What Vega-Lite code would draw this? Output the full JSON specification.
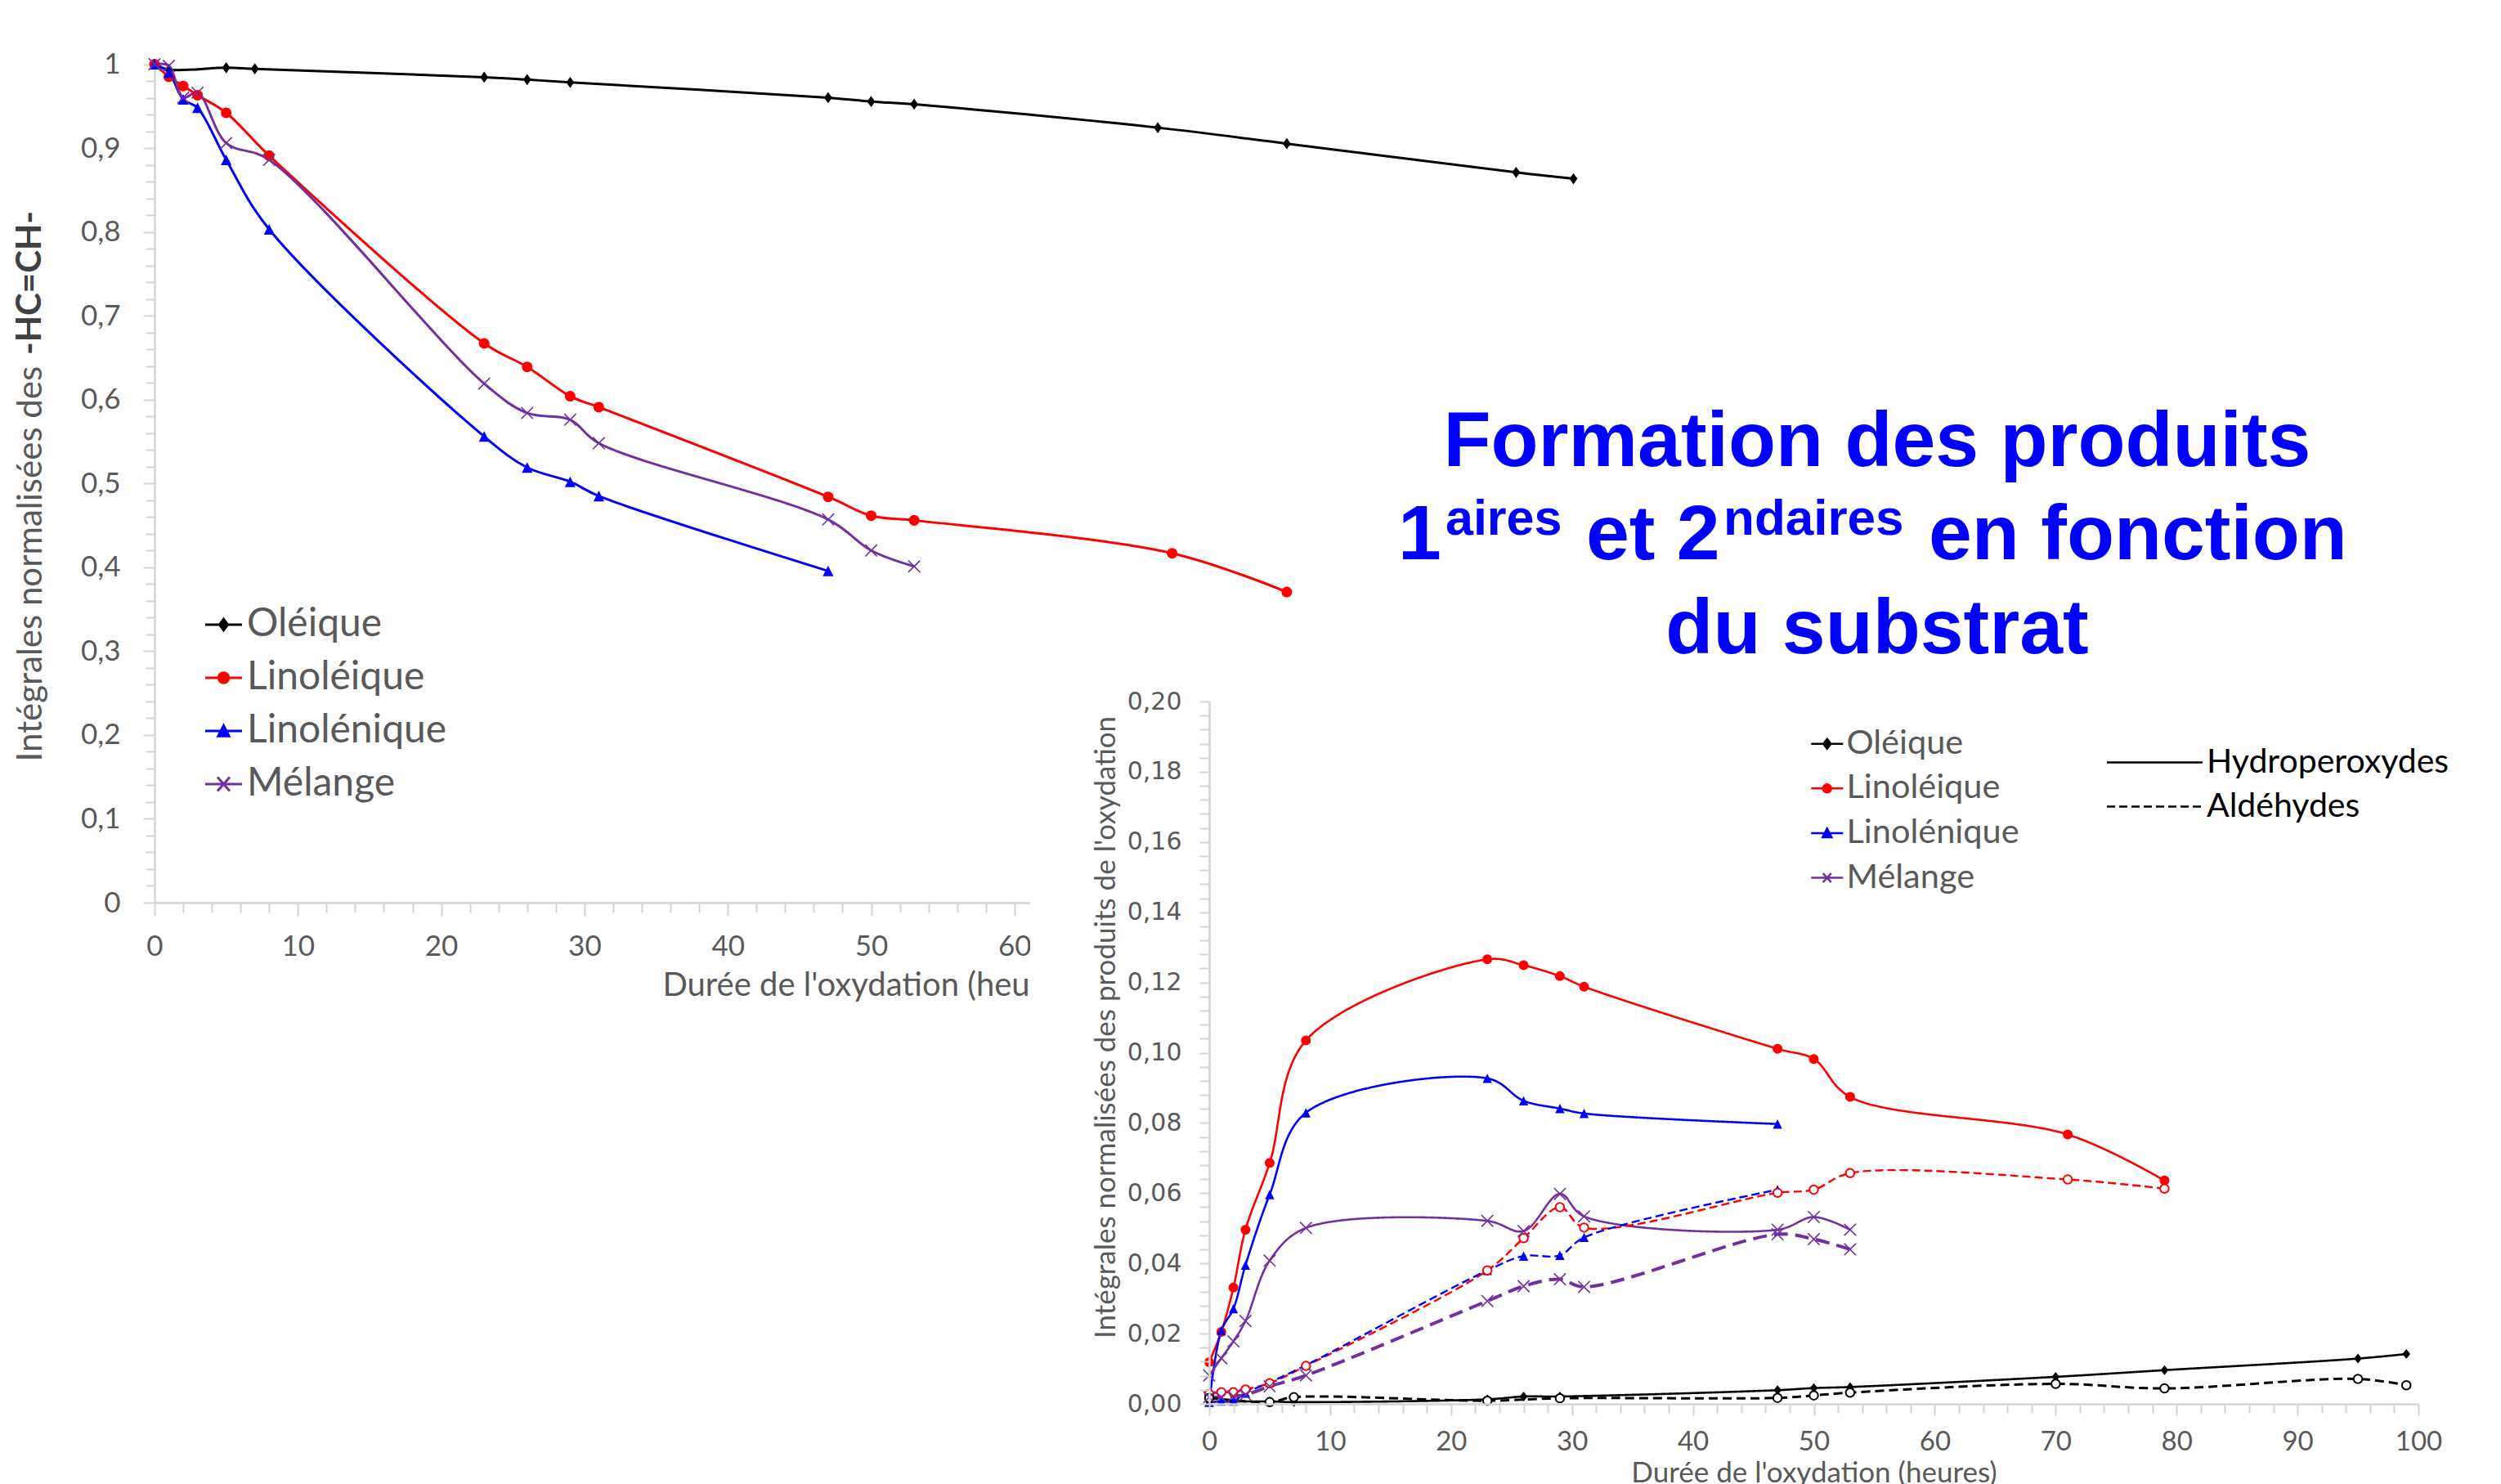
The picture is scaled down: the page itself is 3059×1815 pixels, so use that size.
{
"$schema": "https://vega.github.io/schema/vega-lite/v6.json",
"width": 3059,
"height": 1815,
"autosize": {"type": "none"},
"padding": 0,
"background": "#FFFFFF",
"config": {"view": {"stroke": null}, "axis": {"grid": false}},
"datasets": {
"c1": [
{"series":"Oléique","t":0,"v":1.0},{"series":"Oléique","t":1,"v":0.9936},{"series":"Oléique","t":5,"v":0.9958},{"series":"Oléique","t":7,"v":0.9945},{"series":"Oléique","t":23,"v":0.9845},{"series":"Oléique","t":26,"v":0.9816},{"series":"Oléique","t":29,"v":0.9783},{"series":"Oléique","t":47,"v":0.9601},{"series":"Oléique","t":50,"v":0.9555},{"series":"Oléique","t":53,"v":0.9523},{"series":"Oléique","t":70,"v":0.9243},{"series":"Oléique","t":79,"v":0.9052},{"series":"Oléique","t":95,"v":0.871},{"series":"Oléique","t":99,"v":0.8634},
{"series":"Linoléique","t":0,"v":1.0},{"series":"Linoléique","t":1,"v":0.985},{"series":"Linoléique","t":2,"v":0.974},{"series":"Linoléique","t":3,"v":0.963},{"series":"Linoléique","t":5,"v":0.942},{"series":"Linoléique","t":8,"v":0.891},{"series":"Linoléique","t":23,"v":0.667},{"series":"Linoléique","t":26,"v":0.639},{"series":"Linoléique","t":29,"v":0.604},{"series":"Linoléique","t":31,"v":0.591},{"series":"Linoléique","t":47,"v":0.484},{"series":"Linoléique","t":50,"v":0.4615},{"series":"Linoléique","t":53,"v":0.456},{"series":"Linoléique","t":71,"v":0.4167},{"series":"Linoléique","t":79,"v":0.3705},
{"series":"Linolénique","t":0,"v":1.0},{"series":"Linolénique","t":1,"v":0.99},{"series":"Linolénique","t":2,"v":0.958},{"series":"Linolénique","t":3,"v":0.948},{"series":"Linolénique","t":5,"v":0.886},{"series":"Linolénique","t":8,"v":0.803},{"series":"Linolénique","t":23,"v":0.556},{"series":"Linolénique","t":26,"v":0.519},{"series":"Linolénique","t":29,"v":0.502},{"series":"Linolénique","t":31,"v":0.485},{"series":"Linolénique","t":47,"v":0.3956},
{"series":"Mélange","t":0,"v":1.0},{"series":"Mélange","t":1,"v":0.998},{"series":"Mélange","t":2,"v":0.96},{"series":"Mélange","t":3,"v":0.966},{"series":"Mélange","t":5,"v":0.906},{"series":"Mélange","t":8,"v":0.886},{"series":"Mélange","t":23,"v":0.619},{"series":"Mélange","t":26,"v":0.584},{"series":"Mélange","t":29,"v":0.576},{"series":"Mélange","t":31,"v":0.548},{"series":"Mélange","t":47,"v":0.457},{"series":"Mélange","t":50,"v":0.42},{"series":"Mélange","t":53,"v":0.401}
],
"c2": [
{"series":"Linoléique","type":"Hydroperoxydes","t":0,"v":0.0119},{"series":"Linoléique","type":"Hydroperoxydes","t":1,"v":0.0205},{"series":"Linoléique","type":"Hydroperoxydes","t":2,"v":0.0331},{"series":"Linoléique","type":"Hydroperoxydes","t":3,"v":0.0496},{"series":"Linoléique","type":"Hydroperoxydes","t":5,"v":0.0686},{"series":"Linoléique","type":"Hydroperoxydes","t":8,"v":0.1035},{"series":"Linoléique","type":"Hydroperoxydes","t":23,"v":0.1266},{"series":"Linoléique","type":"Hydroperoxydes","t":26,"v":0.1249},{"series":"Linoléique","type":"Hydroperoxydes","t":29,"v":0.1218},{"series":"Linoléique","type":"Hydroperoxydes","t":31,"v":0.1188},{"series":"Linoléique","type":"Hydroperoxydes","t":47,"v":0.1011},{"series":"Linoléique","type":"Hydroperoxydes","t":50,"v":0.0982},{"series":"Linoléique","type":"Hydroperoxydes","t":53,"v":0.0874},{"series":"Linoléique","type":"Hydroperoxydes","t":71,"v":0.0767},{"series":"Linoléique","type":"Hydroperoxydes","t":79,"v":0.0636},
{"series":"Linoléique","type":"Aldéhydes","t":0,"v":0.0028},{"series":"Linoléique","type":"Aldéhydes","t":1,"v":0.0033},{"series":"Linoléique","type":"Aldéhydes","t":2,"v":0.0033},{"series":"Linoléique","type":"Aldéhydes","t":3,"v":0.0041},{"series":"Linoléique","type":"Aldéhydes","t":5,"v":0.0059},{"series":"Linoléique","type":"Aldéhydes","t":8,"v":0.0108},{"series":"Linoléique","type":"Aldéhydes","t":23,"v":0.038},{"series":"Linoléique","type":"Aldéhydes","t":26,"v":0.0472},{"series":"Linoléique","type":"Aldéhydes","t":29,"v":0.056},{"series":"Linoléique","type":"Aldéhydes","t":31,"v":0.0502},{"series":"Linoléique","type":"Aldéhydes","t":47,"v":0.0601},{"series":"Linoléique","type":"Aldéhydes","t":50,"v":0.061},{"series":"Linoléique","type":"Aldéhydes","t":53,"v":0.0657},{"series":"Linoléique","type":"Aldéhydes","t":71,"v":0.0639},{"series":"Linoléique","type":"Aldéhydes","t":79,"v":0.0613},
{"series":"Linolénique","type":"Hydroperoxydes","t":0,"v":0.0005},{"series":"Linolénique","type":"Hydroperoxydes","t":1,"v":0.0209},{"series":"Linolénique","type":"Hydroperoxydes","t":2,"v":0.0271},{"series":"Linolénique","type":"Hydroperoxydes","t":3,"v":0.0395},{"series":"Linolénique","type":"Hydroperoxydes","t":5,"v":0.0596},{"series":"Linolénique","type":"Hydroperoxydes","t":8,"v":0.0829},{"series":"Linolénique","type":"Hydroperoxydes","t":23,"v":0.0927},{"series":"Linolénique","type":"Hydroperoxydes","t":26,"v":0.0863},{"series":"Linolénique","type":"Hydroperoxydes","t":29,"v":0.0841},{"series":"Linolénique","type":"Hydroperoxydes","t":31,"v":0.0827},{"series":"Linolénique","type":"Hydroperoxydes","t":47,"v":0.0797},
{"series":"Linolénique","type":"Aldéhydes","t":0,"v":0.0005},{"series":"Linolénique","type":"Aldéhydes","t":1,"v":0.0008},{"series":"Linolénique","type":"Aldéhydes","t":2,"v":0.0008},{"series":"Linolénique","type":"Aldéhydes","t":3,"v":0.0031},{"series":"Linolénique","type":"Aldéhydes","t":5,"v":0.0061},{"series":"Linolénique","type":"Aldéhydes","t":8,"v":0.011},{"series":"Linolénique","type":"Aldéhydes","t":23,"v":0.038},{"series":"Linolénique","type":"Aldéhydes","t":26,"v":0.0421},{"series":"Linolénique","type":"Aldéhydes","t":29,"v":0.0423},{"series":"Linolénique","type":"Aldéhydes","t":31,"v":0.0474},{"series":"Linolénique","type":"Aldéhydes","t":47,"v":0.061},
{"series":"Mélange","type":"Hydroperoxydes","t":0,"v":0.0081},{"series":"Mélange","type":"Hydroperoxydes","t":1,"v":0.013},{"series":"Mélange","type":"Hydroperoxydes","t":2,"v":0.0178},{"series":"Mélange","type":"Hydroperoxydes","t":3,"v":0.0236},{"series":"Mélange","type":"Hydroperoxydes","t":5,"v":0.0408},{"series":"Mélange","type":"Hydroperoxydes","t":8,"v":0.0501},{"series":"Mélange","type":"Hydroperoxydes","t":23,"v":0.0521},{"series":"Mélange","type":"Hydroperoxydes","t":26,"v":0.0492},{"series":"Mélange","type":"Hydroperoxydes","t":29,"v":0.0598},{"series":"Mélange","type":"Hydroperoxydes","t":31,"v":0.0534},{"series":"Mélange","type":"Hydroperoxydes","t":47,"v":0.0496},{"series":"Mélange","type":"Hydroperoxydes","t":50,"v":0.0532},{"series":"Mélange","type":"Hydroperoxydes","t":53,"v":0.0496},
{"series":"Mélange","type":"Aldéhydes","t":0,"v":0.0019},{"series":"Mélange","type":"Aldéhydes","t":1,"v":0.0019},{"series":"Mélange","type":"Aldéhydes","t":2,"v":0.0022},{"series":"Mélange","type":"Aldéhydes","t":3,"v":0.0026},{"series":"Mélange","type":"Aldéhydes","t":5,"v":0.005},{"series":"Mélange","type":"Aldéhydes","t":8,"v":0.0081},{"series":"Mélange","type":"Aldéhydes","t":23,"v":0.0293},{"series":"Mélange","type":"Aldéhydes","t":26,"v":0.0335},{"series":"Mélange","type":"Aldéhydes","t":29,"v":0.0355},{"series":"Mélange","type":"Aldéhydes","t":31,"v":0.0333},{"series":"Mélange","type":"Aldéhydes","t":47,"v":0.0483},{"series":"Mélange","type":"Aldéhydes","t":50,"v":0.0469},{"series":"Mélange","type":"Aldéhydes","t":53,"v":0.044},
{"series":"Oléique","type":"Hydroperoxydes","t":0,"v":0.0006},{"series":"Oléique","type":"Hydroperoxydes","t":5,"v":0.0007},{"series":"Oléique","type":"Hydroperoxydes","t":7,"v":0.0005},{"series":"Oléique","type":"Hydroperoxydes","t":23,"v":0.0013},{"series":"Oléique","type":"Hydroperoxydes","t":26,"v":0.0021},{"series":"Oléique","type":"Hydroperoxydes","t":29,"v":0.0021},{"series":"Oléique","type":"Hydroperoxydes","t":47,"v":0.0039},{"series":"Oléique","type":"Hydroperoxydes","t":50,"v":0.0045},{"series":"Oléique","type":"Hydroperoxydes","t":53,"v":0.0048},{"series":"Oléique","type":"Hydroperoxydes","t":70,"v":0.0077},{"series":"Oléique","type":"Hydroperoxydes","t":79,"v":0.0096},{"series":"Oléique","type":"Hydroperoxydes","t":95,"v":0.0129},{"series":"Oléique","type":"Hydroperoxydes","t":99,"v":0.0142},
{"series":"Oléique","type":"Aldéhydes","t":0,"v":0.0017},{"series":"Oléique","type":"Aldéhydes","t":5,"v":0.0005},{"series":"Oléique","type":"Aldéhydes","t":7,"v":0.0019},{"series":"Oléique","type":"Aldéhydes","t":23,"v":0.0009},{"series":"Oléique","type":"Aldéhydes","t":29,"v":0.0016},{"series":"Oléique","type":"Aldéhydes","t":47,"v":0.0017},{"series":"Oléique","type":"Aldéhydes","t":50,"v":0.0024},{"series":"Oléique","type":"Aldéhydes","t":53,"v":0.0032},{"series":"Oléique","type":"Aldéhydes","t":70,"v":0.0057},{"series":"Oléique","type":"Aldéhydes","t":79,"v":0.0044},{"series":"Oléique","type":"Aldéhydes","t":95,"v":0.0071},{"series":"Oléique","type":"Aldéhydes","t":99,"v":0.0053}
]
},
"resolve": {
"scale": {"x": "independent", "y": "independent", "color": "independent", "shape": "independent", "strokeDash": "independent"},
"axis": {"x": "independent", "y": "independent"},
"legend": {"color": "independent", "shape": "independent", "strokeDash": "independent"}
},
"layer": [
{
"data": {"name": "c1"},
"encoding": {
"x": {"field": "t", "type": "quantitative",
"scale": {"domain": [0, 100], "range": [189, 1942], "nice": false, "zero": false},
"axis": {"orient": "bottom", "offset": -711, "grid": false, "zindex": 0,
"values": [0,2,4,6,8,10,12,14,16,18,20,22,24,26,28,30,32,34,36,38,40,42,44,46,48,50,52,54,56,58,60,62,64,66,68,70,72,74,76,78,80,82,84,86,88,90,92,94,96,98,100],
"domainColor": "#D4D4D4", "domainWidth": 2.5, "tickColor": "#D4D4D4", "tickWidth": 2,
"tickSize": {"condition": {"test": "datum.value % 10 === 0", "value": 16}, "value": 12},
"labelExpr": "datum.value % 10 === 0 ? datum.label : ''",
"labelFont": "Lato", "labelFontSize": 35, "labelColor": "#595959", "labelPadding": 20, "labelAngle": 0,
"labelOverlap": false, "labelFlush": false, "labelBound": false,
"title": "Durée de l'oxydation (heures)", "titleFont": "Lato", "titleFontSize": 40, "titleFontWeight": "normal", "titleColor": "#595959", "titlePadding": 10}},
"y": {"field": "v", "type": "quantitative",
"scale": {"domain": [0, 1], "range": [1104, 78.5], "nice": false, "zero": false},
"axis": {"orient": "left", "offset": -189, "grid": false, "zindex": 0,
"values": [0,0.02,0.04,0.06,0.08,0.1,0.12,0.14,0.16,0.18,0.2,0.22,0.24,0.26,0.28,0.3,0.32,0.34,0.36,0.38,0.4,0.42,0.44,0.46,0.48,0.5,0.52,0.54,0.56,0.58,0.6,0.62,0.64,0.66,0.68,0.7,0.72,0.74,0.76,0.78,0.8,0.82,0.84,0.86,0.88,0.9,0.92,0.94,0.96,0.98,1],
"domainColor": "#D4D4D4", "domainWidth": 2.5, "tickColor": "#D4D4D4", "tickWidth": 2,
"tickSize": {"condition": {"test": "round(datum.value*100) % 10 === 0", "value": 14}, "value": 11},
"labelExpr": "round(datum.value*100) % 10 === 0 ? replace(format(datum.value, '.1~f'), '.', ',') : ''",
"labelFont": "Lato", "labelFontSize": 35, "labelColor": "#595959", "labelPadding": 28,
"labelOverlap": false, "labelFlush": false, "labelBound": false,
"title": "Intégrales normalisées des", "titleFont": "Lato", "titleFontSize": 42, "titleFontWeight": "normal", "titleColor": "#595959",
"titleX": -152, "titleY": 931, "titleAngle": 270, "titleAlign": "left", "titleBaseline": "middle"}},
"color": {"field": "series", "type": "nominal",
"scale": {"domain": ["Oléique", "Linoléique", "Linolénique", "Mélange"], "range": ["#000000", "#FF0000", "#0000FF", "#7030A0"]},
"legend": {"orient": "none", "legendX": 249.5, "legendY": 740, "direction": "vertical", "title": null, "zindex": 1, "padding": 0,
"symbolSize": 400, "symbolStrokeWidth": 3, "labelFont": "Lato", "labelFontSize": 48, "labelColor": "#595959", "labelOffset": 4.5, "labelLimit": 1000, "rowPadding": 17,
"encode": {"symbols": {"update": {
"shape": {"signal": "datum.value === 'Oléique' ? 'M-2.25,0H2.25M0,-0.68L0.5,0L0,0.68L-0.5,0Z' : datum.value === 'Linoléique' ? 'M-2.25,0H2.25M0.62,0A0.62,0.62,0,1,1,-0.62,0A0.62,0.62,0,1,1,0.62,0Z' : datum.value === 'Linolénique' ? 'M-2.25,0H2.25M0,-0.66L0.66,0.62L-0.66,0.62Z' : 'M-2.25,0H2.25M-0.75,-0.85L0.75,0.85M-0.75,0.85L0.75,-0.85'"},
"strokeWidth": {"value": 3},
"size": {"value": 400},
"opacity": {"value": 1}
}}}}}
},
"layer": [
{"mark": {"type": "line", "interpolate": "catmull-rom", "strokeWidth": 3}},
{"transform": [{"filter": "datum.series !== 'Mélange'"}],
"mark": {"type": "point", "filled": true, "opacity": 1, "size": 170, "strokeWidth": 0},
"encoding": {"shape": {"field": "series", "type": "nominal",
"scale": {"domain": ["Mélange", "Oléique", "Linoléique", "Linolénique"], "range": ["M-1.17,-1.17L1.17,1.17M-1.17,1.17L1.17,-1.17", "M0,-1.05L0.75,0L0,1.05L-0.75,0Z", "circle", "M0,-1.0L1.0,1.0L-1.0,1.0Z"]},
"legend": null}}},
{"transform": [{"filter": "datum.series === 'Mélange'"}],
"mark": {"type": "point", "filled": false, "opacity": 1, "size": 150, "strokeWidth": 1.6, "shape": "M-1.17,-1.17L1.17,1.17M-1.17,1.17L1.17,-1.17"}},
{"transform": [{"filter": "datum.t === 0 && datum.series === 'Oléique'"}],
"mark": {"type": "text", "font": "Lato", "fontWeight": "bold", "fontSize": 42, "angle": 270, "align": "left", "baseline": "middle"},
"encoding": {"x": {"datum": -8.67}, "y": {"datum": 0.6533}, "text": {"value": "-HC=CH-"}, "color": {"value": "#404040"}}}
]
},
{
"data": {"name": "c2"},
"encoding": {
"x": {"field": "t", "type": "quantitative",
"scale": {"domain": [0, 100], "range": [1479, 2958], "nice": false, "zero": false},
"axis": {"orient": "bottom", "offset": -98, "grid": false, "zindex": 1,
"values": [0,2,4,6,8,10,12,14,16,18,20,22,24,26,28,30,32,34,36,38,40,42,44,46,48,50,52,54,56,58,60,62,64,66,68,70,72,74,76,78,80,82,84,86,88,90,92,94,96,98,100],
"domainColor": "#D4D4D4", "domainWidth": 2.5, "tickColor": "#D4D4D4", "tickWidth": 2,
"tickSize": {"condition": {"test": "datum.value % 10 === 0", "value": 14}, "value": 11},
"labelExpr": "datum.value % 10 === 0 ? datum.label : ''",
"labelFont": "Lato", "labelFontSize": 33, "labelColor": "#595959", "labelPadding": 16, "labelAngle": 0,
"labelOverlap": false, "labelFlush": false, "labelBound": false,
"title": "Durée de l'oxydation (heures)", "titleFont": "Lato", "titleFontSize": 35, "titleFontWeight": "normal", "titleColor": "#595959", "titlePadding": 4}},
"y": {"field": "v", "type": "quantitative",
"scale": {"domain": [0, 0.2], "range": [1717, 858], "nice": false, "zero": false},
"axis": {"orient": "left", "offset": -1479, "grid": false, "zindex": 1,
"values": [0,0.004,0.008,0.012,0.016,0.02,0.024,0.028,0.032,0.036,0.04,0.044,0.048,0.052,0.056,0.06,0.064,0.068,0.072,0.076,0.08,0.084,0.088,0.092,0.096,0.1,0.104,0.108,0.112,0.116,0.12,0.124,0.128,0.132,0.136,0.14,0.144,0.148,0.152,0.156,0.16,0.164,0.168,0.172,0.176,0.18,0.184,0.188,0.192,0.196,0.2],
"domainColor": "#D4D4D4", "domainWidth": 2.5, "tickColor": "#D4D4D4", "tickWidth": 2,
"tickSize": 12,
"labelExpr": "round(datum.value*1000) % 20 === 0 ? replace(format(datum.value, '.2f'), '.', ',') : ''",
"labelFont": "DejaVu Sans", "labelFontSize": 30, "labelColor": "#595959", "labelPadding": 22,
"labelOverlap": false, "labelFlush": false, "labelBound": false,
"title": "Intégrales normalisées des produits de l'oxydation", "titleFont": "Lato", "titleFontSize": 35, "titleFontWeight": "normal", "titleColor": "#595959",
"titleX": -127, "titleY": 1256, "titleAngle": 270, "titleAlign": "center", "titleBaseline": "middle"}},
"color": {"field": "series", "type": "nominal",
"scale": {"domain": ["Oléique", "Linoléique", "Linolénique", "Mélange"], "range": ["#000000", "#FF0000", "#0000FF", "#7030A0"]},
"legend": {"orient": "none", "legendX": 2214, "legendY": 889, "direction": "vertical", "title": null, "zindex": 1, "padding": 0,
"symbolSize": 400, "symbolStrokeWidth": 2.5, "labelFont": "Lato", "labelFontSize": 41.5, "labelColor": "#595959", "labelOffset": 3, "labelLimit": 1000, "rowPadding": 11.6,
"encode": {"symbols": {"update": {
"shape": {"signal": "datum.value === 'Oléique' ? 'M-1.95,0H1.95M0,-0.6L0.45,0L0,0.6L-0.45,0Z' : datum.value === 'Linoléique' ? 'M-1.95,0H1.95M0.5,0A0.5,0.5,0,1,1,-0.5,0A0.5,0.5,0,1,1,0.5,0Z' : datum.value === 'Linolénique' ? 'M-1.95,0H1.95M0,-0.55L0.55,0.5L-0.55,0.5Z' : 'M-1.95,0H1.95M-0.5,-0.55L0.5,0.55M-0.5,0.55L0.5,-0.55'"},
"strokeWidth": {"value": 2.5},
"size": {"value": 400},
"opacity": {"value": 1}
}}}}}
},
"layer": [
{"transform": [{"filter": "datum.t === 0 && datum.series === 'Oléique' && datum.type === 'Hydroperoxydes'"}],
"mark": {"type": "rect"},
"encoding": {"x": {"datum": -14.8}, "x2": {"datum": 110}, "y": {"datum": 0.215}, "y2": {"datum": -0.03}, "color": {"value": "#FFFFFF"}}},
{"transform": [{"filter": "datum.type === 'Hydroperoxydes'"}],
"mark": {"type": "line", "interpolate": "catmull-rom", "strokeWidth": 2.6},
"encoding": {"strokeDash": {"field": "type", "type": "nominal",
"scale": {"domain": ["Hydroperoxydes", "Aldéhydes"], "range": [[1, 0], [10, 5]]},
"legend": {"orient": "none", "legendX": 2615, "legendY": 912, "direction": "vertical", "title": null, "zindex": 1, "padding": 0,
"symbolType": "M-5.85,0H5.85", "symbolSize": 400, "symbolStrokeWidth": 2.5, "symbolStrokeColor": "#000000",
"labelFont": "Lato", "labelFontSize": 41, "labelColor": "#000000", "labelOffset": 43, "labelLimit": 1000, "rowPadding": 12,
"encode": {"symbols": {"update": {"stroke": {"value": "#000000"}, "shape": {"value": "M-5.85,0H5.85"}, "strokeWidth": {"value": 2.5}, "size": {"value": 400}, "opacity": {"value": 1}}}}}}}},
{"transform": [{"filter": "datum.type === 'Aldéhydes' && (datum.series === 'Linoléique' || datum.series === 'Linolénique')"}],
"mark": {"type": "line", "interpolate": "catmull-rom", "strokeWidth": 2.4},
"encoding": {"strokeDash": {"field": "type", "type": "nominal",
"scale": {"domain": ["Hydroperoxydes", "Aldéhydes"], "range": [[1, 0], [10, 5]]}}}},
{"transform": [{"filter": "datum.type === 'Aldéhydes' && datum.series === 'Mélange'"}],
"mark": {"type": "line", "interpolate": "catmull-rom", "strokeWidth": 4, "strokeDash": [17, 9]}},
{"transform": [{"filter": "datum.type === 'Aldéhydes' && datum.series === 'Oléique'"}],
"mark": {"type": "line", "interpolate": "catmull-rom", "strokeWidth": 3, "strokeDash": [11, 6]}},
{"transform": [{"filter": "datum.series !== 'Mélange' && (datum.type === 'Hydroperoxydes' || datum.series === 'Linolénique')"}],
"mark": {"type": "point", "filled": true, "opacity": 1, "size": 144, "strokeWidth": 0},
"encoding": {"shape": {"field": "series", "type": "nominal",
"scale": {"domain": ["Mélange", "Oléique", "Linoléique", "Linolénique"], "range": ["M-1.2,-1.2L1.2,1.2M-1.2,1.2L1.2,-1.2", "M0,-1L0.8,0L0,1L-0.8,0Z", "circle", "M0,-0.95L0.95,0.95L-0.95,0.95Z"]},
"legend": null}}},
{"transform": [{"filter": "datum.type === 'Aldéhydes' && (datum.series === 'Oléique' || datum.series === 'Linoléique')"}],
"mark": {"type": "point", "filled": false, "fill": "#FFFFFF", "opacity": 1, "size": 110, "strokeWidth": 2, "shape": "circle"}},
{"transform": [{"filter": "datum.series === 'Mélange'"}],
"mark": {"type": "point", "filled": false, "opacity": 1, "size": 144, "strokeWidth": 1.6, "shape": "M-1.2,-1.2L1.2,1.2M-1.2,1.2L1.2,-1.2"}},
{"transform": [{"filter": "datum.t === 0 && datum.series === 'Oléique' && datum.type === 'Hydroperoxydes'"}],
"mark": {"type": "text", "font": "Liberation Sans", "fontWeight": "bold", "fontSize": 95, "align": "center", "baseline": "alphabetic"},
"encoding": {"x": {"datum": 55.24}, "y": {"datum": 0.267}, "text": {"value": "Formation des produits"}, "color": {"value": "#0000FF"}}},
{"transform": [{"filter": "datum.t === 0 && datum.series === 'Oléique' && datum.type === 'Hydroperoxydes'"}],
"mark": {"type": "text", "font": "Liberation Sans", "fontWeight": "bold", "fontSize": 95, "align": "left", "baseline": "alphabetic"},
"encoding": {"x": {"datum": 15.62}, "y": {"datum": 0.2404}, "text": {"value": "1"}, "color": {"value": "#0000FF"}}},
{"transform": [{"filter": "datum.t === 0 && datum.series === 'Oléique' && datum.type === 'Hydroperoxydes'"}],
"mark": {"type": "text", "font": "Liberation Sans", "fontWeight": "bold", "fontSize": 61, "align": "left", "baseline": "alphabetic"},
"encoding": {"x": {"datum": 19.54}, "y": {"datum": 0.2475}, "text": {"value": "aires"}, "color": {"value": "#0000FF"}}},
{"transform": [{"filter": "datum.t === 0 && datum.series === 'Oléique' && datum.type === 'Hydroperoxydes'"}],
"mark": {"type": "text", "font": "Liberation Sans", "fontWeight": "bold", "fontSize": 95, "align": "left", "baseline": "alphabetic"},
"encoding": {"x": {"datum": 31.17}, "y": {"datum": 0.2404}, "text": {"value": "et 2"}, "color": {"value": "#0000FF"}}},
{"transform": [{"filter": "datum.t === 0 && datum.series === 'Oléique' && datum.type === 'Hydroperoxydes'"}],
"mark": {"type": "text", "font": "Liberation Sans", "fontWeight": "bold", "fontSize": 62, "align": "left", "baseline": "alphabetic"},
"encoding": {"x": {"datum": 42.53}, "y": {"datum": 0.2475}, "text": {"value": "ndaires"}, "color": {"value": "#0000FF"}}},
{"transform": [{"filter": "datum.t === 0 && datum.series === 'Oléique' && datum.type === 'Hydroperoxydes'"}],
"mark": {"type": "text", "font": "Liberation Sans", "fontWeight": "bold", "fontSize": 95, "align": "left", "baseline": "alphabetic"},
"encoding": {"x": {"datum": 59.5}, "y": {"datum": 0.2404}, "text": {"value": "en fonction"}, "color": {"value": "#0000FF"}}},
{"transform": [{"filter": "datum.t === 0 && datum.series === 'Oléique' && datum.type === 'Hydroperoxydes'"}],
"mark": {"type": "text", "font": "Liberation Sans", "fontWeight": "bold", "fontSize": 95, "align": "center", "baseline": "alphabetic"},
"encoding": {"x": {"datum": 55.24}, "y": {"datum": 0.2137}, "text": {"value": "du substrat"}, "color": {"value": "#0000FF"}}}
]
}
]
}
